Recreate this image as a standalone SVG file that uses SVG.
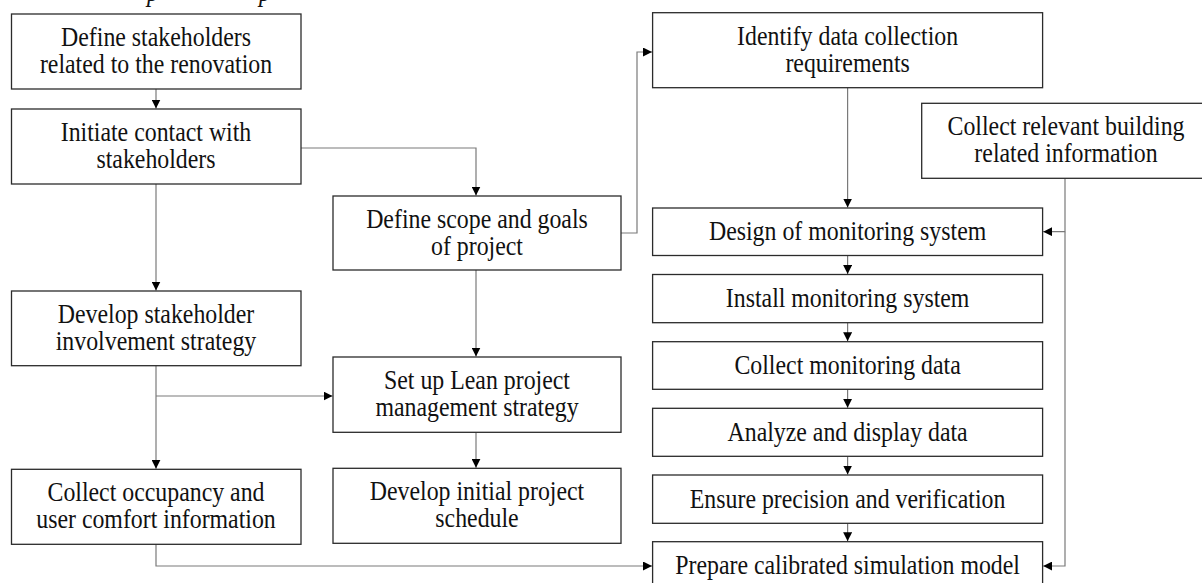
<svg xmlns="http://www.w3.org/2000/svg" width="1202" height="583" viewBox="0 0 1202 583">
<defs>
<style>
.box{fill:#fff;stroke:#2b2b2b;stroke-width:1.3}
.t{font-family:"Liberation Serif","Times New Roman",serif;font-size:26.5px;fill:#111;text-anchor:middle}
.ti{font-family:"Liberation Serif","Times New Roman",serif;font-size:26.5px;font-style:italic;fill:#111}
.c{fill:none;stroke:#7a7a7a;stroke-width:1.2}
</style>
<marker id="ah" viewBox="0 0 10 10" refX="10" refY="5" markerWidth="9" markerHeight="9" markerUnits="userSpaceOnUse" orient="auto">
<path d="M0,0 L10,5 L0,10 Z" fill="#000"/>
</marker>
</defs>
<rect width="1202" height="583" fill="#fff"/>
<g id="title-fragment">
<text class="ti" transform="translate(147,1) scale(0.9,1)">p</text>
<text class="ti" transform="translate(259,1) scale(0.9,1)">p</text>
</g>
<g id="connectors">
<path class="c" d="M156,89 V108.5" marker-end="url(#ah)"/>
<path class="c" d="M301,148 H476 V195.5" marker-end="url(#ah)"/>
<path class="c" d="M156,184 V290.5" marker-end="url(#ah)"/>
<path class="c" d="M476,270 V356.5" marker-end="url(#ah)"/>
<path class="c" d="M621,233 H637 V52 H652" marker-end="url(#ah)"/>
<path class="c" d="M847.6,88 V207.5" marker-end="url(#ah)"/>
<path class="c" d="M1065,178.3 V231.7 H1043.2" marker-end="url(#ah)"/>
<path class="c" d="M1065,231.7 V566 H1043.2" marker-end="url(#ah)"/>
<path class="c" d="M156,366 V468.7" marker-end="url(#ah)"/>
<path class="c" d="M156,396 H332.5" marker-end="url(#ah)"/>
<path class="c" d="M476,432.3 V467.7" marker-end="url(#ah)"/>
<path class="c" d="M156,544.3 V566 H652" marker-end="url(#ah)"/>
<path class="c" d="M847.6,255.5 V274" marker-end="url(#ah)"/>
<path class="c" d="M847.6,322.7 V341.2" marker-end="url(#ah)"/>
<path class="c" d="M847.6,389.3 V407.8" marker-end="url(#ah)"/>
<path class="c" d="M847.6,456.3 V474.5" marker-end="url(#ah)"/>
<path class="c" d="M847.6,523.3 V541.2" marker-end="url(#ah)"/>
</g>
<g id="n1"><rect class="box" x="11.5" y="14" width="289.5" height="75"/>
<text class="t" transform="translate(156,46) scale(0.9,1)">Define stakeholders</text><text class="t" transform="translate(156,73) scale(0.9,1)">related to the renovation</text></g>
<g id="n2"><rect class="box" x="11.5" y="109" width="289.5" height="75"/>
<text class="t" transform="translate(156,141) scale(0.9,1)">Initiate contact with</text><text class="t" transform="translate(156,168) scale(0.9,1)">stakeholders</text></g>
<g id="n3"><rect class="box" x="11.5" y="291" width="289.5" height="74.7"/>
<text class="t" transform="translate(156,323) scale(0.9,1)">Develop stakeholder</text><text class="t" transform="translate(156,350) scale(0.9,1)">involvement strategy</text></g>
<g id="n4"><rect class="box" x="11.5" y="469.3" width="289.5" height="75"/>
<text class="t" transform="translate(156,501) scale(0.9,1)">Collect occupancy and</text><text class="t" transform="translate(156,528) scale(0.9,1)">user comfort information</text></g>
<g id="n5"><rect class="box" x="333" y="196" width="288" height="74"/>
<text class="t" transform="translate(477,228) scale(0.9,1)">Define scope and goals</text><text class="t" transform="translate(477,255) scale(0.9,1)">of project</text></g>
<g id="n6"><rect class="box" x="333" y="357" width="288" height="75.3"/>
<text class="t" transform="translate(477,389) scale(0.9,1)">Set up Lean project</text><text class="t" transform="translate(477,416) scale(0.9,1)">management strategy</text></g>
<g id="n7"><rect class="box" x="333" y="468.3" width="288" height="75"/>
<text class="t" transform="translate(477,500) scale(0.9,1)">Develop initial project</text><text class="t" transform="translate(477,527) scale(0.9,1)">schedule</text></g>
<g id="n8"><rect class="box" x="652.6" y="12.7" width="390" height="75"/>
<text class="t" transform="translate(847.6,45) scale(0.9,1)">Identify data collection</text><text class="t" transform="translate(847.6,72) scale(0.9,1)">requirements</text></g>
<g id="n9"><rect class="box" x="921.7" y="103.3" width="287" height="75"/>
<text class="t" transform="translate(1066,135) scale(0.9,1)">Collect relevant building</text><text class="t" transform="translate(1066,162) scale(0.9,1)">related information</text></g>
<g id="n10"><rect class="box" x="652.6" y="208" width="390" height="47.5"/>
<text class="t" transform="translate(847.6,240) scale(0.9,1)">Design of monitoring system</text></g>
<g id="n11"><rect class="box" x="652.6" y="274.5" width="390" height="48.2"/>
<text class="t" transform="translate(847.6,307) scale(0.9,1)">Install monitoring system</text></g>
<g id="n12"><rect class="box" x="652.6" y="341.7" width="390" height="47.6"/>
<text class="t" transform="translate(847.6,374) scale(0.9,1)">Collect monitoring data</text></g>
<g id="n13"><rect class="box" x="652.6" y="408.3" width="390" height="48"/>
<text class="t" transform="translate(847.6,440.5) scale(0.9,1)">Analyze and display data</text></g>
<g id="n14"><rect class="box" x="652.6" y="475" width="390" height="48.3"/>
<text class="t" transform="translate(847.6,507.5) scale(0.9,1)">Ensure precision and verification</text></g>
<g id="n15"><rect class="box" x="652.6" y="541.7" width="390" height="48"/>
<text class="t" transform="translate(847.6,574) scale(0.9,1)">Prepare calibrated simulation model</text></g>
</svg>
